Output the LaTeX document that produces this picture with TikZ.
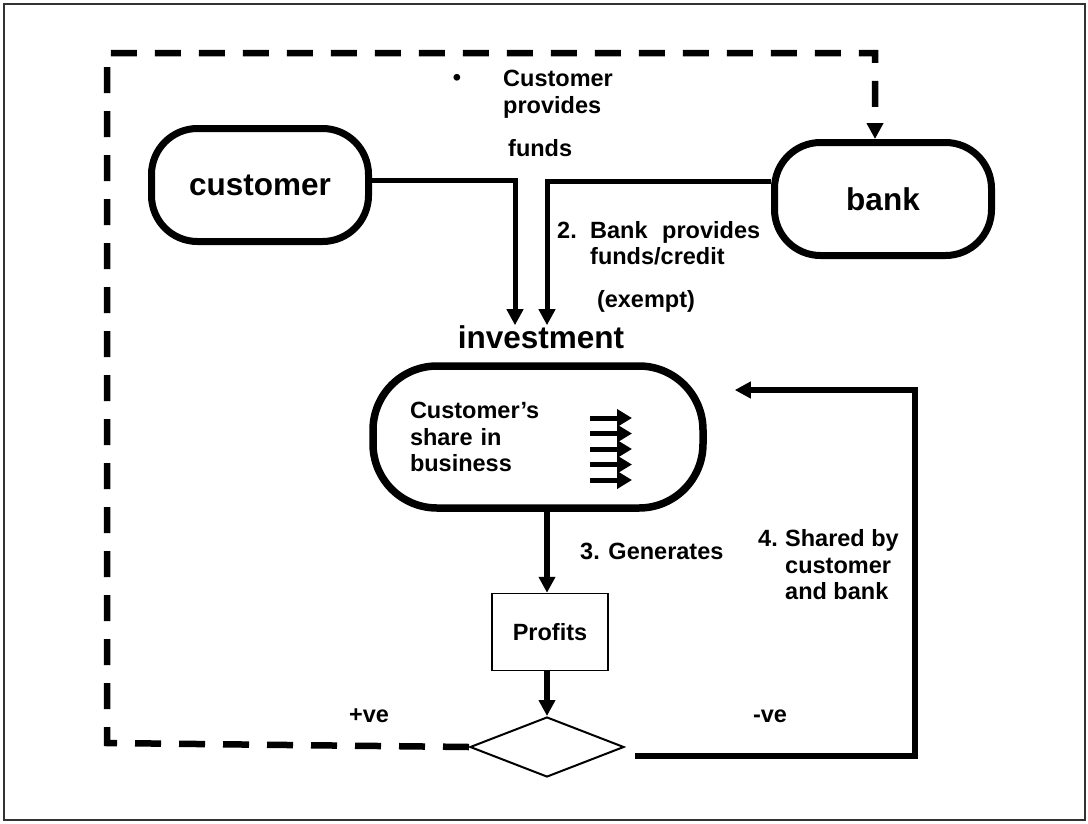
\documentclass[tikz,border=0pt]{standalone}
\usepackage{fontspec}
\setmainfont{Liberation Sans}
\usetikzlibrary{shapes.geometric, arrows.meta, calc}
\newcommand{\partyfont}{\fontsize{31.5}{36}\selectfont\bfseries}
\newcommand{\notefont}{\fontsize{23.5}{26.5}\selectfont\bfseries}
\tikzstyle{party} = [rectangle, rounded corners=46pt, minimum width=217pt, minimum height=113pt, text centered, draw=black, line width=7pt, font=\partyfont]
\tikzstyle{venture} = [rectangle, rounded corners=64pt, minimum width=330pt, minimum height=142pt, text width=256pt, align=left, inner sep=0pt, draw=black, line width=7.5pt]
\tikzstyle{process} = [rectangle, minimum width=116pt, minimum height=77pt, text centered, draw=black, line width=1.5pt]
\tikzstyle{decision} = [diamond, shape aspect=2.57, minimum width=154pt, minimum height=60pt, inner sep=0pt, draw=black, line width=2pt]
\tikzstyle{note} = [inner sep=0pt]
\tikzstyle{arrow} = [line width=5pt, ->, >={Triangle[length=16pt, width=16pt]}]
\tikzstyle{dasharrow} = [arrow, line width=6.5pt, dash pattern=on 26pt off 18pt]
\tikzstyle{minarrow} = [line width=5pt, ->, >={Triangle[length=15pt, width=17pt]}]

\begin{document}
\begin{tikzpicture}[x=1pt, y=-1pt, node distance=100pt, font=\notefont]
    \useasboundingbox (0,0) rectangle (1088,823);
    \draw [line width=1.5pt, black!80] (4,4) rectangle (1085,820);

    \node (customer) [party] at (260,185) {customer};
    \node (bank) [party] at (883,199) {bank};
    \node (invest) [venture] at (538,437) {Customer’s\\share in\\business};
    \node (invlabel) [above of=invest, xshift=3pt, font=\partyfont, inner sep=0pt] {investment};
    \node (profits) [process, below of=invest, xshift=12pt, yshift=-95pt] {Profits};
    \node (decide) [decision, below of=profits, xshift=-3pt, yshift=-15pt] {};

    \node (bullet) [note] at (457,80) {\textbullet};
    \node (step1) [note, anchor=west, align=left] at (503,94) {Customer\\provides};
    \node (step1b) [note, anchor=west] at (508,148) {funds};
    \node (step2) [note, anchor=west, align=left] at (557,243) {\makebox[33pt][l]{2.}\makebox[170pt][s]{Bank provides}\\\hspace*{33pt}funds/credit};
    \node (exempt) [note] at (646,301) {(exempt)};
    \node (step3) [note, anchor=west] at (580,551) {3. Generates};
    \node (step4) [note, anchor=west, align=left] at (758,565) {\makebox[27pt][l]{4.}Shared by\\\hspace*{27pt}customer\\\hspace*{27pt}and bank};
    \node (plus) [note] at (369,716) {+ve};
    \node (minus) [note] at (770,716) {-ve};

    \coordinate (topleft) at (107,53);
    \coordinate (botleft) at (107,743);
    \coordinate (loopcorner) at (915,390);

    \draw [arrow] ([yshift=5pt]customer.east) -| ([xshift=-26pt]invlabel.north);
    \draw [arrow] ([yshift=18pt]bank.west) -| ([xshift=6pt]invlabel.north);
    \draw [arrow, line width=6.5pt] ([xshift=9pt]invest.south) -- ([xshift=-3pt]profits.north);
    \draw [arrow, line width=6.5pt] ([xshift=-3pt]profits.south) -- (decide.north);
    \draw [arrow, line width=6.5pt] ([xshift=10pt, yshift=-9pt]decide.east) -| (loopcorner) -- ([xshift=28pt, yshift=47pt]invest.east);
    \draw [dasharrow] (decide.west) -- (botleft) -- (topleft) -| ([xshift=-8pt]bank.north);

    \foreach \k in {0,...,4}
        \draw [minarrow] ($(invest.center)+(52,-19+15.5*\k)$) -- ++(42,0);

\end{tikzpicture}
\end{document}
